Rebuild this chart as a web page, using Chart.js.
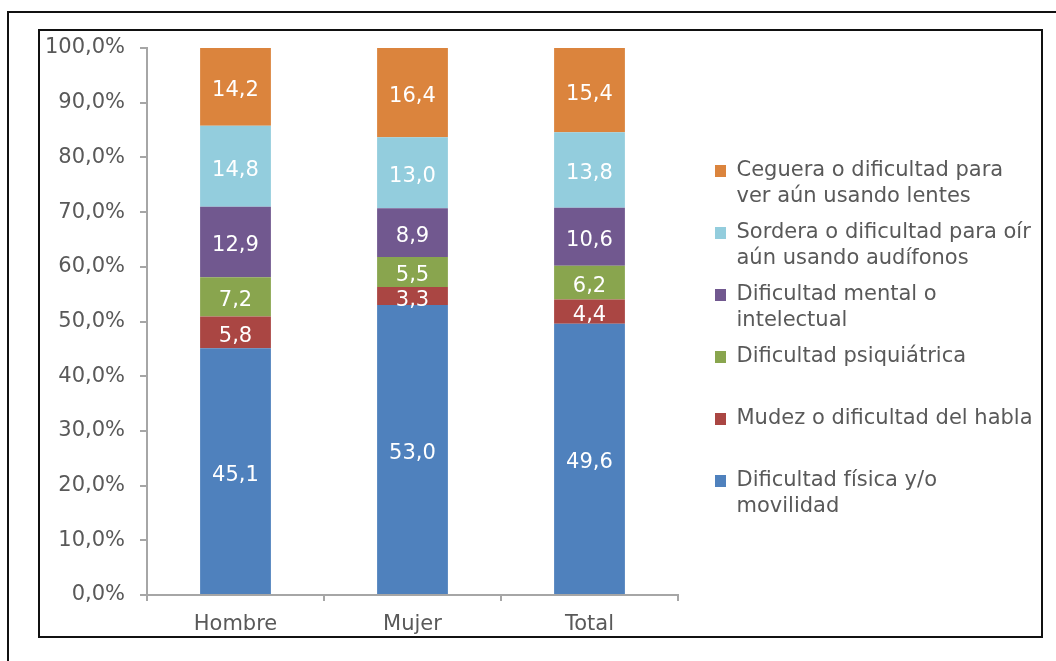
<!DOCTYPE html>
<html>
<head>
<meta charset="utf-8">
<script src="https://cdn.jsdelivr.net/npm/chart.js@4.4.1/dist/chart.umd.min.js"></script>
<style>
  html, body { margin: 0; padding: 0; background: #fff; }
  #wrap { position: relative; width: 1056px; height: 661px; overflow: hidden; }
  #outer { position: absolute; left: 7px; top: 11px; width: 1100px; height: 700px; border: 2px solid #111; box-sizing: border-box; }
  #inner { position: absolute; left: 38px; top: 29px; width: 1005px; height: 609px; border: 2px solid #111; box-sizing: border-box; }
  #c { position: absolute; left: 0; top: 0; }
</style>
</head>
<body>
<div id="wrap">
  <div id="outer"></div>
  <div id="inner"></div>
  <canvas id="c" width="1056" height="661"></canvas>
</div>
<script>
// ---- data ----
const categories = ['Hombre', 'Mujer', 'Total'];
const fisica   = [45.1, 53.0, 49.6];
const mudez    = [5.8, 3.3, 4.4];
const psiq     = [7.2, 5.5, 6.2];
const mental   = [12.9, 8.9, 10.6];
const sordera  = [14.8, 13.0, 13.8];
const ceguera  = [14.2, 16.4, 15.4];
const seriesNames = [
  'Dificultad física y/o movilidad',
  'Mudez o dificultad del habla',
  'Dificultad psiquiátrica',
  'Dificultad mental o intelectual',
  'Sordera o dificultad para oír aún usando audífonos',
  'Ceguera o dificultad para ver aún usando lentes'
];
const legendLines = [
  ['Dificultad física y/o', 'movilidad'],
  ['Mudez o dificultad del habla', ''],
  ['Dificultad psiquiátrica', ''],
  ['Dificultad mental o', 'intelectual'],
  ['Sordera o dificultad para oír', 'aún usando audífonos'],
  ['Ceguera o dificultad para', 'ver aún usando lentes']
];
const yTickValues = [0, 10, 20, 30, 40, 50, 60, 70, 80, 90, 100];

const colors = ['#4F81BD', '#AA4643', '#89A54E', '#71588F', '#93CDDD', '#DB843D'];
const seriesData = [fisica, mudez, psiq, mental, sordera, ceguera];

const FONT = '"DejaVu Sans", Verdana, sans-serif';
const fmt = v => v.toFixed(1).replace('.', ',');

const valueLabels = {
  id: 'valueLabels',
  afterDatasetsDraw(chart) {
    const ctx = chart.ctx;
    ctx.save();
    ctx.font = '21px ' + FONT;
    ctx.fillStyle = '#ffffff';
    ctx.textAlign = 'center';
    ctx.textBaseline = 'alphabetic';
    chart.data.datasets.forEach((ds, i) => {
      const meta = chart.getDatasetMeta(i);
      meta.data.forEach((el, j) => {
        const p = el.getProps(['x', 'y', 'base'], true);
        ctx.fillText(fmt(ds.data[j]), p.x, (p.y + p.base) / 2 + 9.5);
      });
    });
    ctx.restore();
  }
};

const legendPlace = {
  id: 'legendPlace',
  afterLayout(chart) {
    const lg = chart.legend;
    if (!lg) return;
    lg.left = chart.chartArea.right + 27;
    lg.right = chart.width;
    lg.width = lg.right - lg.left;
  }
};

new Chart(document.getElementById('c'), {
  type: 'bar',
  data: {
    labels: categories,
    datasets: seriesData.map((d, i) => ({
      label: seriesNames[i],
      data: d,
      backgroundColor: colors[i],
      borderWidth: 0,
      barPercentage: 0.4,
      categoryPercentage: 1.0
    }))
  },
  options: {
    responsive: false,
    animation: false,
    layout: { padding: { left: 42, top: 48, right: 78, bottom: 26 } },
    plugins: {
      tooltip: { enabled: false },
      legend: {
        position: 'right',
        align: 'center',
        reverse: true,
        maxWidth: 300,
        labels: {
          boxWidth: 11,
          boxHeight: 12,
          padding: 10,
          color: '#595959',
          font: { family: FONT, size: 21, lineHeight: 26 / 21 },
          generateLabels(chart) {
            const items = Chart.defaults.plugins.legend.labels.generateLabels(chart);
            items.forEach(it => { it.text = legendLines[it.datasetIndex]; it.lineWidth = 0; });
            return items;
          }
        }
      }
    },
    scales: {
      x: {
        stacked: true,
        grid: { display: true, drawOnChartArea: false, drawTicks: true, tickLength: 6, color: '#A6A6A6', lineWidth: 2, offset: true },
        border: { display: true, color: '#A6A6A6', width: 2 },
        ticks: { color: '#595959', font: { family: FONT, size: 21 }, padding: 11 },
        afterFit(s) { s.height = 40; }
      },
      y: {
        stacked: true,
        min: 0,
        max: 100,
        afterBuildTicks(s) { s.ticks = yTickValues.map(v => ({ value: v })); },
        grid: { display: true, drawOnChartArea: false, drawTicks: true, tickLength: 7, color: '#A6A6A6', lineWidth: 2 },
        border: { display: true, color: '#A6A6A6', width: 2 },
        ticks: {
          color: '#595959',
          font: { family: FONT, size: 21 },
          padding: 15,
          callback: v => fmt(v) + '%'
        },
        afterFit(s) { s.width = 105; }
      }
    }
  },
  plugins: [valueLabels, legendPlace]
});
</script>
</body>
</html>
